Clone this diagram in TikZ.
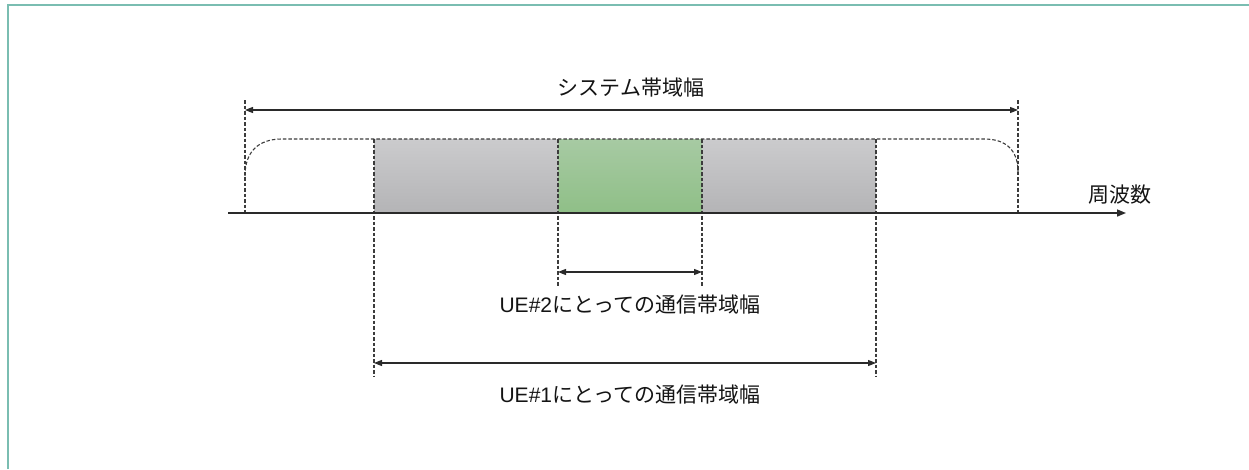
\documentclass[tikz,border=0pt]{standalone}
\usepackage{fontspec}
\setmainfont{Noto Sans CJK JP}
\newfontfamily\latfont{Liberation Sans}
\usetikzlibrary{arrows.meta}
\definecolor{framec}{HTML}{7ABDB1}
\definecolor{dashc}{HTML}{3C3C3C}
\definecolor{linec}{HTML}{2A2A2A}
\definecolor{graytop}{HTML}{CBCBCD}
\definecolor{graybot}{HTML}{B4B4B6}
\definecolor{greentop}{HTML}{A7CAA3}
\definecolor{greenbot}{HTML}{8FBF87}
\tikzset{
  dashline/.style={draw=dashc, line width=1.1pt, dash pattern=on 3.5pt off 2pt},
  bandbox/.style={inner sep=0pt, outer sep=0pt, anchor=north west},
  grayband/.style={bandbox, top color=graytop, bottom color=graybot},
  greenband/.style={bandbox, top color=greentop, bottom color=greenbot},
  dimarrow/.style={draw=linec, line width=1.1pt, {Triangle[length=8pt,width=6pt]}-{Triangle[length=8pt,width=6pt]}},
  axisarrow/.style={draw=linec, line width=1.5pt, -{Triangle[length=9pt,width=7pt]}},
  lbl/.style={inner sep=0pt, font=\fontsize{21pt}{25pt}\selectfont, text=black!92}
}
\begin{document}
\begin{tikzpicture}[x=1pt,y=1pt]
\path[use as bounding box] (0,0) rectangle (1249,-469);
% frame
\draw[framec, line width=2pt] (7.5,-469) -- (7.5,-4.5) -- (1249,-4.5);
% bands
\node[grayband, minimum width=502pt, minimum height=74pt] (gray) at (374,-139) {};
\node[greenband, minimum width=144pt, minimum height=74pt] (green) at (558,-139) {};
% system envelope
\coordinate (sysL) at (245,-110);
\coordinate (sysR) at (1018,-110);
\coordinate (sysLb) at (245,-213);
\coordinate (sysRb) at (1018,-213);
\coordinate (sysLt) at (245,-100);
\coordinate (sysRt) at (1018,-100);
\draw[dashline] (sysLt) -- (sysLb);
\draw[dashline] (sysRt) -- (sysRb);
\draw[dashline] (245,-176) .. controls (245,-152) and (258,-139) .. (282,-139) -- (984,-139) .. controls (1006,-139) and (1018,-150) .. (1018,-172);
\draw[dashline] (sysLb) -- (sysRb);
% band verticals
\coordinate (g1) at (374,-376);
\coordinate (g2) at (876,-376);
\coordinate (e1) at (558,-287);
\coordinate (e2) at (702,-287);
\draw[dashline] (gray.north west) -- (g1);
\draw[dashline] (gray.north east) -- (g2);
\draw[dashline] (green.north west) -- (e1);
\draw[dashline] (green.north east) -- (e2);
\draw[dashline, draw=dashc!70!green] (green.south west) -- (green.south east);
% axis
\coordinate (ax0) at (228,-213);
\coordinate (ax1) at (1126,-213);
\draw[axisarrow] (ax0) -- (ax1);
\node[lbl] (freq) at (1120,-195) {周波数};
% dimension arrows
\coordinate (ue2l) at (558,-272);
\coordinate (ue2r) at (702,-272);
\coordinate (ue1l) at (374,-363);
\coordinate (ue1r) at (876,-363);
\draw[dimarrow] (sysL) -- (sysR);
\draw[dimarrow] (ue2l) -- (ue2r);
\draw[dimarrow] (ue1l) -- (ue1r);
\node[lbl] (syslbl) at (631,-88) {システム帯域幅};
\node[lbl] (ue2lbl) at (630,-305) {{\latfont UE\#2}にとっての通信帯域幅};
\node[lbl] (ue1lbl) at (630,-395) {{\latfont UE\#1}にとっての通信帯域幅};
\end{tikzpicture}
\end{document}
